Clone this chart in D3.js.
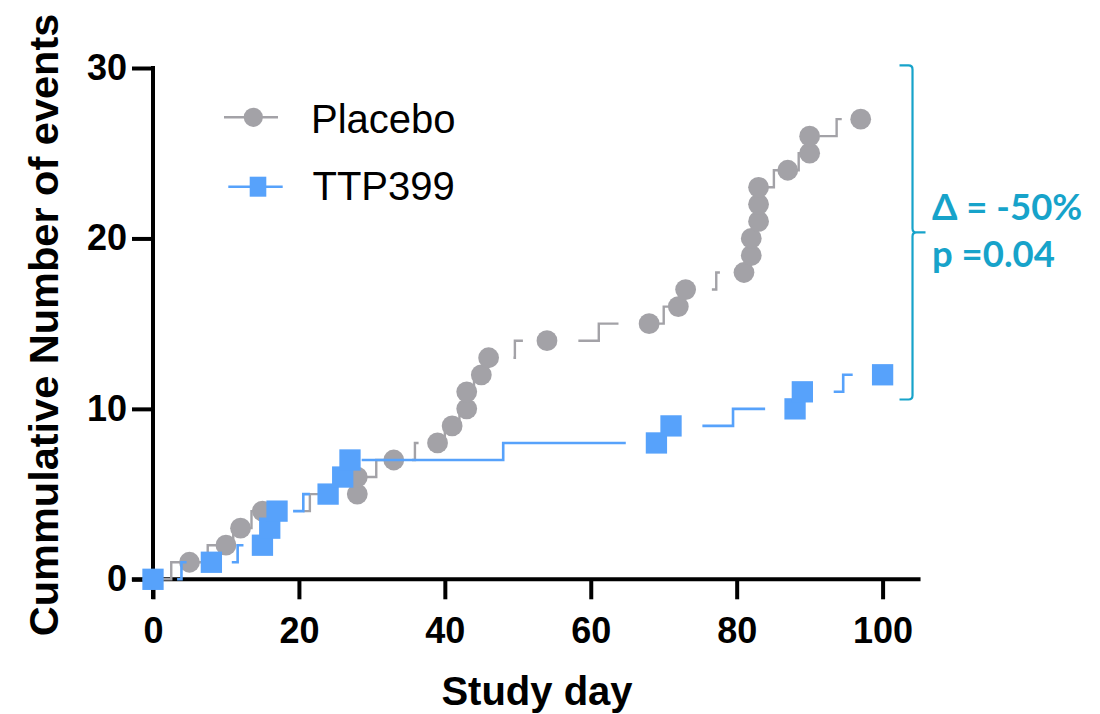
<!DOCTYPE html>
<html>
<head>
<meta charset="utf-8">
<title>Cumulative number of events</title>
<script src="https://cdn.jsdelivr.net/npm/d3@7"></script>
<style>
  body { margin: 0; background: #fff; }
  svg { display: block; }
</style>
</head>
<body>
<svg id="chart" width="1100" height="714"></svg>
<script>
// values (day, cumulative count)
const xTicks = [0, 20, 40, 60, 80, 100];
const yTicks = [0, 10, 20, 30];

const placeboDays   = [0, 5, 10, 12, 15, 28, 28, 33, 39, 41, 43, 43, 45, 46, 54, 68, 72, 73, 81, 82, 82, 83, 83, 83, 87, 90, 90, 97];
const placeboEvents = [0, 1, 2, 3, 4, 5, 6, 7, 8, 9, 10, 11, 12, 13, 14, 15, 16, 17, 18, 19, 20, 21, 22, 23, 24, 25, 26, 27];

const ttpDays   = [0, 8, 15, 16, 17, 24, 26, 27, 69, 71, 88, 89, 100];
const ttpEvents = [0, 1, 2, 3, 4, 5, 6, 7, 8, 9, 10, 11, 12];

// visible pieces of the staircase lines (the figure leaves gaps near symbols)
const placeboSteps = [
    [[0, 0], [2.5, 0], [2.5, 1], [5, 1]],
    [[5, 1], [7.5, 1], [7.5, 2], [10, 2]],
    [[10, 2], [11, 2], [11, 3], [12, 3], [13.5, 3], [13.5, 4], [15, 4]],
    [[20.6, 4], [21.5, 4], [21.5, 5], [22.8, 5]],
    [[28, 5], [28, 6], [30.6, 6], [30.6, 7], [33, 7]],
    [[35.5, 7], [35.9, 7], [35.9, 8], [36.4, 8]],
    [[39, 8], [40, 8], [40, 9], [41, 9], [42, 9], [42, 10], [43, 10], [43, 11], [44, 11], [44, 12], [45, 12], [45.5, 12], [45.5, 13], [46, 13]],
    [[49.4, 13], [49.6, 13], [49.6, 14], [50.7, 14]],
    [[58.3, 14], [61.1, 14], [61.1, 15], [63.8, 15]],
    [[68, 15], [70, 15], [70, 16], [72, 16], [72.5, 16], [72.5, 17], [73, 17]],
    [[76.6, 17], [77.2, 17], [77.2, 18], [77.7, 18]],
    [[81, 18], [81.5, 18], [81.5, 19], [82, 19], [82, 20], [82.5, 20], [82.5, 21], [83, 21], [83, 23]],
    [[83, 23], [85.1, 23], [85.1, 24], [87, 24]],
    [[87, 24], [88.5, 24], [88.5, 25], [90, 25], [90, 26]],
    [[91.4, 26], [93.7, 26], [93.7, 27], [94.4, 27]]
];

const ttpSteps = [
    [[3.3, 0], [3.9, 0], [3.9, 1], [4.6, 1]],
    [[10.8, 1], [11.6, 1], [11.6, 2], [12.4, 2]],
    [[15, 2], [15.5, 2], [15.5, 3], [16, 3], [16.5, 3], [16.5, 4], [17, 4]],
    [[19.2, 4], [20.6, 4], [20.6, 5], [21.5, 5]],
    [[24, 5], [25, 5], [25, 6], [26, 6], [26.5, 6], [26.5, 7], [27, 7]],
    [[28.6, 7], [48, 7], [48, 8], [64.8, 8]],
    [[69, 8], [70, 8], [70, 9], [71, 9]],
    [[75.3, 9], [79.5, 9], [79.5, 10], [83.9, 10]],
    [[88, 10], [88.5, 10], [88.5, 11], [89, 11]],
    [[93.3, 11], [94.6, 11], [94.6, 12], [95.9, 12]]
];

const seriesNames = ["Placebo", "TTP399"];
const annotation = ["\u0394 = -50%", "p =0.04"];

const grey = "#a3a2a7";
const blue = "#57a2fb";
const teal = "#17a3ca";
const axisFont = "'Liberation Sans', Arial, sans-serif";

const svg = d3.select("#chart");

const x = d3.scaleLinear().domain([0, 100]).range([153, 882.6]);
const y = d3.scaleLinear().domain([0, 30]).range([579.3, 68]);

svg.append("rect").attr("width", 1100).attr("height", 714).attr("fill", "#fff");

// axis lines run a bit past the origin, like the Prism original
svg.append("line")
    .attr("x1", x(-2.9)).attr("x2", x(105.2))
    .attr("y1", y(0)).attr("y2", y(0))
    .attr("stroke", "#000").attr("stroke-width", 4);

svg.append("line")
    .attr("x1", x(0)).attr("x2", x(0))
    .attr("y1", y(30) - 2).attr("y2", y(-1.15))
    .attr("stroke", "#000").attr("stroke-width", 4);

let xAxis = d3.axisBottom(x).tickValues(xTicks).tickSize(20).tickPadding(18).tickSizeOuter(0);
let yAxis = d3.axisLeft(y).tickValues(yTicks).tickSize(21).tickPadding(5).tickSizeOuter(0);

let gx = svg.append("g").attr("transform", `translate(0,${y(0)})`).call(xAxis);
let gy = svg.append("g").attr("transform", `translate(${x(0)},0)`).call(yAxis);

[gx, gy].forEach(function(g){
    g.select(".domain").remove();
    g.selectAll(".tick line").attr("stroke", "#000").attr("stroke-width", 4);
    g.selectAll(".tick text")
        .attr("fill", "#000")
        .style("font-family", axisFont)
        .style("font-weight", "bold")
        .style("font-size", "36px");
});

// axis titles
svg.append("text")
    .attr("x", 537).attr("y", 705)
    .attr("text-anchor", "middle")
    .style("font-family", axisFont).style("font-weight", "bold").style("font-size", "40px")
    .text("Study day");

svg.append("text")
    .attr("transform", "translate(58,325) rotate(-90)")
    .attr("text-anchor", "middle")
    .style("font-family", axisFont).style("font-weight", "bold").style("font-size", "41.5px")
    .text("Cummulative Number of events");

// series
let step = d3.line().x(d => x(d[0])).y(d => y(d[1]));

function drawSteps(pieces, colour, width){
    svg.append("g").selectAll("path")
        .data(pieces)
        .enter()
        .append("path")
        .attr("d", step)
        .attr("fill", "none")
        .attr("stroke", colour)
        .attr("stroke-width", width)
        .attr("stroke-linejoin", "miter");
}

let placebo = placeboDays.map((d, i) => ({day: d, n: placeboEvents[i]}));
let ttp = ttpDays.map((d, i) => ({day: d, n: ttpEvents[i]}));

drawSteps(placeboSteps, grey, 2.4);

svg.append("g").selectAll("circle")
    .data(placebo)
    .enter()
    .append("circle")
    .attr("cx", d => x(d.day))
    .attr("cy", d => y(d.n))
    .attr("r", 10.4)
    .attr("fill", grey);

drawSteps(ttpSteps, blue, 2.6);

const side = 21.3;
svg.append("g").selectAll("rect")
    .data(ttp)
    .enter()
    .append("rect")
    .attr("x", d => x(d.day) - side / 2)
    .attr("y", d => y(d.n) - side / 2)
    .attr("width", side)
    .attr("height", side)
    .attr("fill", blue);

// legend
let legend = svg.append("g").style("font-family", axisFont).style("font-size", "40px");

legend.append("line").attr("x1", 224).attr("x2", 278).attr("y1", 117.3).attr("y2", 117.3)
    .attr("stroke", grey).attr("stroke-width", 2.4);
legend.append("circle").attr("cx", 253.3).attr("cy", 117.3).attr("r", 9.6).attr("fill", grey);
legend.append("text").attr("x", 311).attr("y", 133.3).text(seriesNames[0]);

legend.append("line").attr("x1", 228.3).attr("x2", 282.7).attr("y1", 186.7).attr("y2", 186.7)
    .attr("stroke", blue).attr("stroke-width", 2.6);
legend.append("rect").attr("x", 249.7).attr("y", 176.7).attr("width", 16.6).attr("height", 20).attr("fill", blue);
legend.append("text").attr("x", 312.5).attr("y", 200).text(seriesNames[1]);

// bracket with the treatment difference
let braceTop = y(30.15), braceBottom = y(10.55), braceMid = (braceTop + braceBottom) / 2;
let bx = x(104.1);
let brace = `M${bx - 13},${braceTop} H${bx - 4} Q${bx},${braceTop} ${bx},${braceTop + 4} V${braceMid - 4} ` +
            `Q${bx},${braceMid} ${bx + 4},${braceMid} H${bx + 13} M${bx + 4},${braceMid} Q${bx},${braceMid} ${bx},${braceMid + 4} ` +
            `V${braceBottom - 4} Q${bx},${braceBottom} ${bx - 4},${braceBottom} H${bx - 13}`;

svg.append("path").attr("d", brace)
    .attr("fill", "none").attr("stroke", teal).attr("stroke-width", 2.2);

svg.append("g")
    .style("font-family", "Lato, 'Open Sans', sans-serif")
    .style("font-weight", "bold")
    .style("font-size", "36.5px")
    .attr("fill", teal)
    .selectAll("text")
    .data(annotation)
    .enter()
    .append("text")
    .attr("x", 932)
    .attr("y", (d, i) => 220 + i * 46.5)
    .text(d => d);
</script>
</body>
</html>
